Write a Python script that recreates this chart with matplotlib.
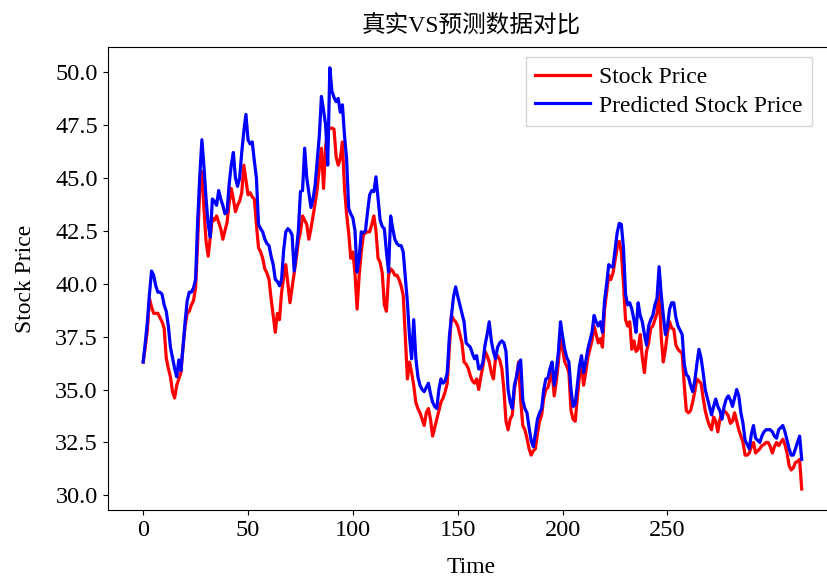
import numpy as np
import matplotlib
matplotlib.use('Agg')
import matplotlib.pyplot as plt

plt.rcParams['font.family'] = ['Liberation Serif', 'Noto Sans CJK SC', 'DejaVu Sans']

title = '真实VS预测数据对比'
x_ticks = [0, 50, 100, 150, 200, 250]

real_price = [
    36.3, 37.0, 37.8, 39.3, 38.9, 38.6, 38.6, 38.6, 38.4, 38.2,
    37.9, 36.5, 36.0, 35.6, 34.9, 34.6, 35.2, 35.5, 35.8, 37.0,
    38.0, 38.6, 38.7, 39.0, 39.2, 39.8, 42.0, 44.5, 45.3, 43.5,
    42.0, 41.3, 42.2, 43.1, 43.0, 43.2, 42.9, 42.6, 42.1, 42.5,
    42.9, 43.8, 44.5, 44.0, 43.4, 43.7, 43.9, 44.3, 45.6, 44.9,
    44.2, 44.3, 44.1, 44.0, 42.8, 41.7, 41.5, 41.2, 40.7, 40.5,
    40.2, 39.3, 38.5, 37.7, 38.6, 38.3, 39.6, 40.3, 40.9, 40.0,
    39.1, 39.8, 40.5, 41.2, 42.0, 42.45, 43.2, 43.0, 42.8, 42.1,
    42.6, 43.2, 43.8, 44.5, 45.5, 46.4, 44.5, 46.5, 47.2, 47.35,
    47.35, 47.3, 46.0, 45.6, 45.9, 46.7, 44.5, 43.3, 42.4, 41.2,
    41.5, 40.5, 38.8, 40.4, 41.5, 42.3, 42.4, 42.45, 42.45, 42.8,
    43.2, 42.5, 41.2, 41.0, 40.5, 39.0, 38.7, 40.4, 40.7, 40.6,
    40.4, 40.4, 40.2, 39.9, 39.45, 37.5, 35.5, 36.3, 35.8, 35.2,
    34.4, 34.1, 33.9, 33.6, 33.3, 33.9, 34.1, 33.6, 32.8, 33.2,
    33.6, 34.0, 34.4, 34.6, 34.9, 35.3, 37.0, 38.5, 38.3, 38.2,
    38.0, 37.6, 37.2, 36.3, 36.2, 36.0, 35.65, 35.4, 35.3, 35.5,
    35.0, 35.6, 36.1, 36.8, 36.6, 36.3, 35.8, 35.5, 36.45, 36.6,
    36.4, 36.0, 35.0, 33.5, 33.1, 33.6, 33.8, 35.0, 35.6, 36.3,
    34.5, 33.3, 33.1, 32.7, 32.2, 31.9, 32.1, 32.2, 32.9, 33.5,
    33.8, 34.6, 35.0, 35.1, 35.5, 35.8, 34.7, 35.4, 36.3, 37.5,
    36.9, 36.3, 36.1, 35.8, 34.0, 33.6, 33.5, 34.6, 35.6, 36.2,
    35.2, 35.8, 36.5, 36.9, 37.3, 38.0, 37.6, 37.2, 37.4, 37.0,
    38.8, 39.6, 40.4, 40.2, 40.5, 41.1, 41.7, 42.0, 41.5, 40.0,
    38.3, 38.0, 38.2, 36.9, 37.3, 36.8, 36.9, 37.6, 36.5, 35.8,
    36.8, 37.2, 37.9, 38.0, 38.3, 38.6, 39.8, 37.5, 36.3, 36.9,
    37.7, 38.2, 37.9, 37.85, 37.1, 36.9, 36.8, 36.7, 35.2, 34.0,
    33.9, 34.0, 34.4, 34.9, 35.5, 35.4, 35.3, 34.6, 34.0, 33.6,
    33.3, 33.1, 33.7, 33.5, 33.0, 33.6, 33.9, 34.0, 33.9, 33.76,
    33.4, 33.5, 33.9, 33.5, 33.1, 32.8, 32.5, 31.9, 31.9, 32.0,
    32.3, 32.5, 32.0, 32.1, 32.2, 32.35, 32.4, 32.5, 32.5, 32.3,
    32.0, 32.3, 32.5, 32.35, 32.5, 32.65, 32.4, 32.0, 31.4, 31.2,
    31.3, 31.55, 31.6, 31.7, 30.3,
]

# predicted prices
pred_price = [
    36.3, 37.2, 38.2, 39.5, 40.6, 40.4, 39.9, 39.6, 39.6, 39.5,
    39.0, 38.7, 38.0, 37.0, 36.5, 36.0, 35.6, 36.4, 35.9, 37.0,
    38.2, 39.2, 39.6, 39.6, 39.8, 40.2, 43.0, 45.1, 46.8, 45.5,
    44.0, 42.8, 42.2, 44.0, 43.9, 43.7, 44.4, 44.0, 43.7, 43.3,
    43.4, 44.7, 45.6, 46.2, 45.0, 44.6, 45.0, 46.2, 47.2, 48.0,
    46.8, 46.6, 46.7, 45.8, 45.0, 42.8, 42.6, 42.45, 42.1, 41.9,
    41.8, 41.3, 40.9, 40.2, 40.1, 39.9, 40.2, 41.6, 42.45, 42.6,
    42.5, 42.3, 40.6, 41.5, 42.5, 44.35, 44.4, 46.4, 45.0, 44.3,
    43.6, 44.0, 44.66, 45.8, 47.0, 48.85, 48.2, 47.5, 45.6, 50.2,
    49.1, 48.8, 48.6, 48.75, 48.1, 48.45, 47.0, 45.9, 43.55, 43.3,
    43.1, 42.5, 40.55, 41.2, 42.45, 42.4, 42.5, 43.4, 44.2, 44.4,
    44.35, 45.05, 44.0, 43.0, 42.7, 42.6, 41.5, 40.55, 43.2, 42.6,
    42.1, 41.9, 41.8, 41.8, 41.5, 40.3, 39.1, 37.5, 36.45, 38.3,
    36.5, 35.6, 35.2, 35.0, 34.9, 35.1, 35.3, 34.8, 34.4, 34.2,
    34.1, 35.0, 35.5, 35.3, 35.4, 35.8, 37.5, 38.5, 39.4, 39.85,
    39.4, 39.0, 38.6, 38.2, 37.2, 37.1, 37.0, 36.7, 36.45, 36.6,
    35.97, 36.0, 36.3, 37.1, 37.6, 38.2, 37.3, 36.8, 36.45, 37.0,
    37.2, 37.3, 37.2, 36.8, 35.0, 34.4, 34.1, 35.2, 35.6, 36.2,
    36.4, 34.5, 34.1, 33.9, 33.2, 32.6, 32.3, 32.9, 33.6, 33.9,
    34.1, 35.0, 35.5, 35.55, 36.0, 36.3, 35.2, 35.9, 36.8, 38.2,
    37.5, 36.9, 36.5, 36.3, 35.0, 34.2, 34.3, 35.2, 36.1, 36.6,
    35.8, 36.3, 36.9, 37.3, 37.7, 38.5, 38.2, 38.0, 38.2, 37.7,
    39.2, 40.0, 40.9, 40.8, 40.8, 41.6, 42.4, 42.85, 42.8, 41.7,
    39.5, 39.0, 39.1, 38.8, 38.3, 37.7, 39.1, 38.5, 38.2, 37.6,
    37.1, 38.0, 38.3, 38.5, 39.0, 39.3, 40.8, 39.5, 38.5, 37.6,
    38.0, 38.8, 39.1, 39.1, 38.4, 38.0, 37.8, 37.6, 36.2, 35.7,
    35.6, 35.2, 34.9, 35.4, 36.2, 36.9, 36.5, 35.8, 35.0, 34.6,
    34.2, 33.8, 34.2, 34.55, 34.2, 34.0, 33.6, 34.2, 34.55, 34.7,
    34.5, 34.2, 34.6, 35.0, 34.7, 33.9, 33.4, 32.6, 32.4, 32.2,
    32.9, 33.3, 32.7, 32.6, 32.5, 32.8, 33.0, 33.1, 33.1, 33.1,
    33.0, 32.8, 32.7, 33.1, 33.2, 33.3, 33.0, 32.6, 32.2, 31.9,
    31.9, 32.2, 32.5, 32.8, 31.7,
]

fig = plt.figure(figsize=(8.27, 5.77), dpi=100)
ax = fig.add_axes([0.130, 0.116, 0.880, 0.803])

ax.plot(real_price, color='red', linewidth=2.3, label='Stock Price')
ax.plot(pred_price, color='blue', linewidth=2.3, label='Predicted Stock Price')

ax.set_xlim(-17, 330)
ax.set_xticks(x_ticks)
ax.set_title(title, fontsize=17, pad=11)
ax.set_xlabel('Time', fontsize=17, labelpad=12)
ax.set_ylabel('Stock Price', fontsize=17, labelpad=14)
ax.tick_params(labelsize=17.5)

ax.legend(loc='upper right', bbox_to_anchor=(812 / 827, 1 - 57 / 577),
          bbox_transform=fig.transFigure, fontsize=17, borderaxespad=0,
          borderpad=0.4, labelspacing=0.3, handlelength=2.3, handletextpad=0.4,
          fancybox=False, edgecolor='#cccccc')

fig.savefig('out.png', dpi=100)
